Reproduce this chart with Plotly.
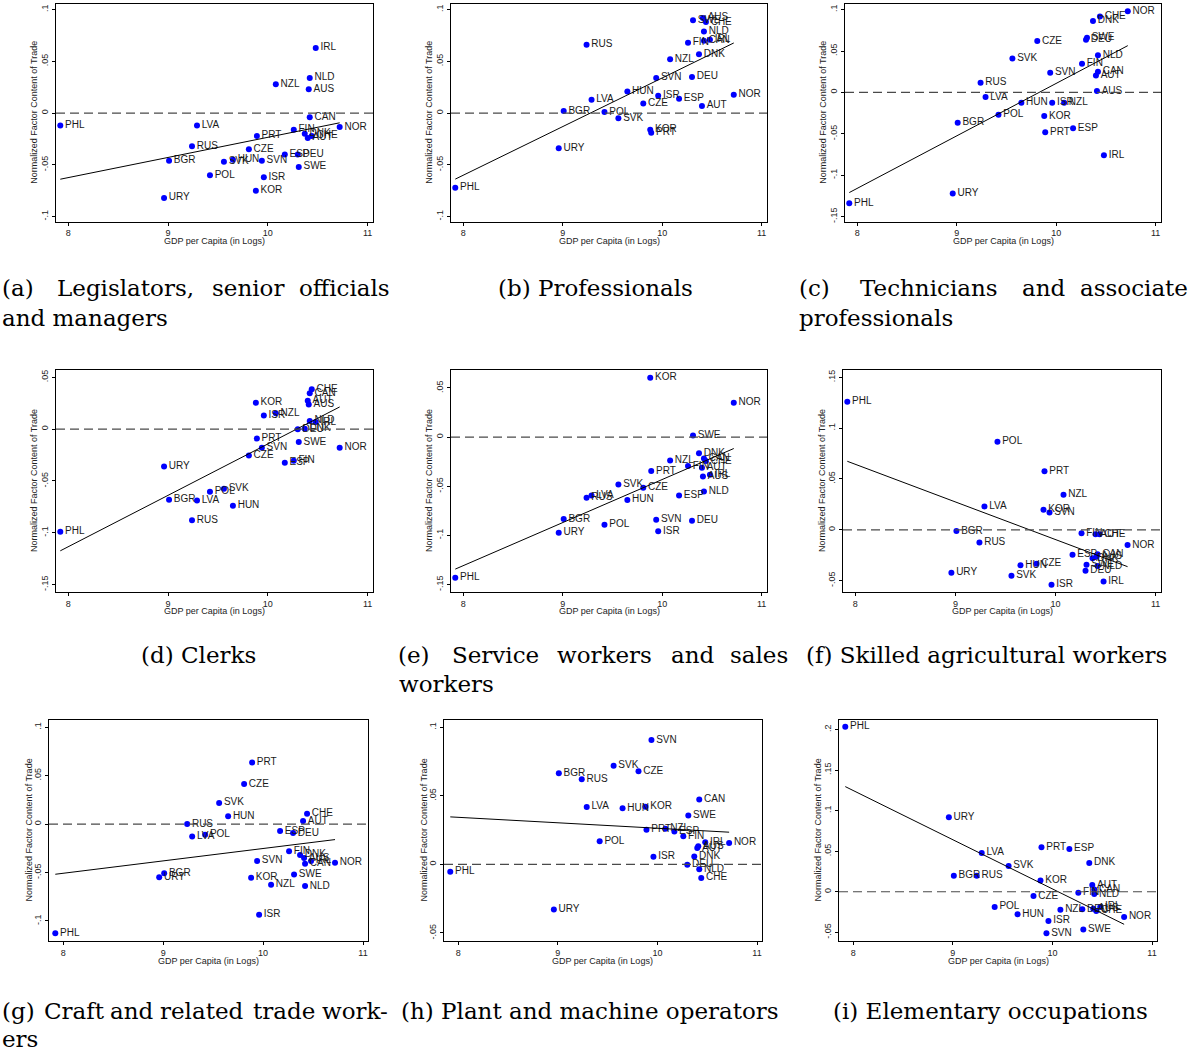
import numpy as np
import plotly.graph_objects as go

# ---------------- data ----------------
countries = ["PHL", "URY", "BGR", "RUS", "LVA", "POL", "SVK", "HUN", "CZE", "KOR",
             "PRT", "SVN", "ISR", "NZL", "ESP", "FIN", "DEU", "SWE", "DNK", "AUS",
             "AUT", "CAN", "NLD", "CHE", "IRL", "NOR"]
gdp = [7.92, 8.96, 9.01, 9.24, 9.29, 9.42, 9.56, 9.65, 9.81, 9.88,
       9.89, 9.94, 9.96, 10.08, 10.17, 10.26, 10.30, 10.31, 10.37, 10.41,
       10.40, 10.42, 10.42, 10.44, 10.48, 10.72]

legislators = [-0.012, -0.082, -0.046, -0.032, -0.012, -0.060, -0.047, -0.045, -0.035, -0.075,
               -0.022, -0.046, -0.062, 0.028, -0.040, -0.016, -0.040, -0.052, -0.020, 0.023,
               -0.024, -0.004, 0.034, -0.022, 0.063, -0.0135]
professionals = [-0.072, -0.034, 0.002, 0.066, 0.013, 0.001, -0.005, 0.021, 0.0093, -0.016,
                 -0.019, 0.034, 0.0167, 0.052, 0.014, 0.068, 0.035, 0.0897, 0.057, 0.092,
                 0.007, 0.070, 0.079, 0.088, 0.071, 0.0177]
technicians = [-0.134, -0.122, -0.0366, 0.0117, -0.0056, -0.027, 0.041, -0.0125, 0.062, -0.0285,
               -0.048, 0.0237, -0.0125, -0.0125, -0.0434, 0.0346, 0.0635, 0.066, 0.0864, 0.0016,
               0.0205, 0.025, 0.045, 0.0916, -0.076, 0.098]
clerks = [-0.099, -0.036, -0.068, -0.088, -0.0688, -0.0605, -0.0576, -0.074, -0.0254, 0.0254,
          -0.009, -0.018, 0.0132, 0.0154, -0.0325, -0.0305, 0.0, -0.0125, 0.0005, 0.0238,
          0.0273, 0.0347, 0.008, 0.0386, 0.0068, -0.018]
service = [-0.143, -0.0973, -0.0834, -0.0617, -0.0593, -0.0892, -0.0481, -0.064, -0.0515, 0.0603,
           -0.0346, -0.0841, -0.0959, -0.0237, -0.0593, -0.0295, -0.0851, 0.0017, -0.0163, -0.040,
           -0.0312, -0.0217, -0.0553, -0.0244, -0.0383, 0.0349]
agricultural = [0.126, -0.0423, -0.0013, -0.0125, 0.023, 0.0866, -0.0452, -0.035, -0.0334, 0.0197,
                0.0577, 0.017, -0.0541, 0.0344, -0.0246, -0.0033, -0.0403, -0.0344, -0.028, -0.0266,
                -0.0043, -0.024, -0.0357, -0.0043, -0.0508, -0.0151]
craft = [-0.1127, -0.0548, -0.0507, 0.0, -0.0127, -0.011, 0.0219, 0.0082, 0.0414, -0.0555,
         0.0637, -0.038, -0.0935, -0.0627, -0.0072, -0.028, -0.0092, -0.052, -0.0318, -0.035,
         0.0031, -0.0408, -0.064, 0.0106, -0.038, -0.040]
plant = [-0.0053, -0.0329, 0.0665, 0.0622, 0.0419, 0.0169, 0.0719, 0.0409, 0.068, 0.0421,
         0.0252, 0.0907, 0.0056, 0.0261, 0.024, 0.0206, -0.0002, 0.0356, 0.0058, 0.0133,
         0.0119, 0.0474, -0.0036, -0.0099, 0.0162, 0.0157]
elementary = [0.2034, 0.092, 0.0196, 0.0196, 0.0479, -0.0188, 0.0319, -0.0278, -0.0053, 0.0139,
              0.0548, -0.0511, -0.036, -0.0221, 0.0528, -0.0012, -0.0217, -0.0466, 0.0356, -0.021,
              0.0082, 0.0029, -0.0029, -0.0237, -0.0188, -0.0311]

x_ticks = [8, 9, 10, 11]
x_title = "GDP per Capita (in Logs)"
y_title = "Normalized Factor Content of Trade"

# ---------------- layout helpers ----------------
W, H = 1193, 1054


def pxx(x):
    return x / W


def pyy(y):
    return 1 - y / H


def fmt(v):
    s = f"{v:g}"
    return s.replace("0.", ".")


# per panel: values, y-range, y-ticks, x-range, x px domain, y px domain, y-title x
panels = [
    dict(v=legislators, yr=[-0.1048, 0.1055], yt=[-0.1, -0.05, 0, 0.05, 0.1],
         xr=[7.877, 11.054], dx=(56, 373), dy=(3, 221), tx=34),
    dict(v=professionals, yr=[-0.1048, 0.1055], yt=[-0.1, -0.05, 0, 0.05, 0.1],
         xr=[7.877, 11.054], dx=(451, 767), dy=(3, 221), tx=429),
    dict(v=technicians, yr=[-0.156, 0.1068], yt=[-0.15, -0.1, -0.05, 0, 0.05, 0.1],
         xr=[7.877, 11.054], dx=(845, 1161), dy=(3, 221), tx=823),
    dict(v=clerks, yr=[-0.157, 0.0568], yt=[-0.15, -0.1, -0.05, 0, 0.05],
         xr=[7.877, 11.054], dx=(56, 373), dy=(370, 592), tx=34),
    dict(v=service, yr=[-0.1575, 0.068], yt=[-0.15, -0.1, -0.05, 0, 0.05],
         xr=[7.877, 11.054], dx=(451, 767), dy=(370, 592), tx=429),
    dict(v=agricultural, yr=[-0.0611, 0.1569], yt=[-0.05, 0, 0.05, 0.1, 0.15],
         xr=[7.877, 11.054], dx=(843, 1161), dy=(370, 592), tx=822),
    dict(v=craft, yr=[-0.1209, 0.1079], yt=[-0.1, -0.05, 0, 0.05, 0.1],
         xr=[7.857, 11.05], dx=(49, 368), dy=(720, 942), tx=29),
    dict(v=plant, yr=[-0.056, 0.1056], yt=[-0.05, 0, 0.05, 0.1],
         xr=[7.857, 11.05], dx=(444, 762), dy=(720, 942), tx=424),
    dict(v=elementary, yr=[-0.061, 0.2123], yt=[-0.05, 0, 0.05, 0.1, 0.15, 0.2],
         xr=[7.857, 11.05], dx=(839, 1157), dy=(720, 942), tx=818),
]

# caption words: (text, x, y, anchor) -- justified lines emulated word by word
captions = [
    ("(a)", 0, 288, "left"), ("Legislators,", 55, 288, "left"), ("senior", 210, 288, "left"),
    ("officials", 392, 288, "right"), ("and managers", 0, 318, "left"),
    ("(b) Professionals", 595, 288, "center"),
    ("(c)", 797, 288, "left"), ("Technicians", 858, 288, "left"), ("and", 1020, 288, "left"),
    ("associate", 1190, 288, "right"), ("professionals", 797, 318, "left"),
    ("(d) Clerks", 198, 655, "center"),
    ("(e)", 396, 655, "left"), ("Service", 450, 655, "left"), ("workers", 555, 655, "left"),
    ("and", 669, 655, "left"), ("sales", 790, 655, "right"), ("workers", 397, 684, "left"),
    ("(f) Skilled agricultural workers", 986, 655, "center"),
    ("(g)", 0, 1012, "left"), ("Craft", 42, 1012, "left"), ("and", 108, 1012, "left"),
    ("related", 158, 1012, "left"), ("trade", 251, 1012, "left"), ("work-", 390, 1012, "right"),
    ("ers", 0, 1040, "left"),
    ("(h) Plant and machine operators", 590, 1012, "center"),
    ("(i) Elementary occupations", 990, 1012, "center"),
]

fig = go.Figure()
layout = dict(width=W, height=H, margin=dict(l=0, r=0, t=0, b=0),
              paper_bgcolor="white", plot_bgcolor="white", showlegend=False)
annotations = []
shapes = []
sans = "Liberation Sans, Arial, sans-serif"
tick_font = dict(family=sans, size=9, color="#222")

gx = np.array(gdp)
for i, p in enumerate(panels):
    n = i + 1
    xa = "x" if n == 1 else f"x{n}"
    ya = "y" if n == 1 else f"y{n}"
    yv = np.array(p["v"])
    fig.add_trace(go.Scatter(
        x=gdp, y=p["v"], text=countries, mode="markers+text",
        textposition="middle right",
        textfont=dict(family=sans, size=10, color="#1a1a1a"),
        marker=dict(color="#0000ff", size=6),
        xaxis=xa, yaxis=ya, cliponaxis=False, hoverinfo="skip"))
    # linear fit
    b, a = np.polyfit(gx, yv, 1)
    xf = [gx.min(), gx.max()]
    fig.add_trace(go.Scatter(
        x=xf, y=[a + b * xf[0], a + b * xf[1]], mode="lines",
        line=dict(color="black", width=1), xaxis=xa, yaxis=ya, hoverinfo="skip"))
    x0, x1 = p["dx"]
    y0, y1 = p["dy"]
    axis_common = dict(showgrid=False, zeroline=False, showline=True, linecolor="black",
                       linewidth=1, mirror=True, ticks="outside", ticklen=3,
                       tickcolor="black", tickfont=tick_font)
    layout["xaxis" if n == 1 else f"xaxis{n}"] = dict(
        axis_common, domain=[pxx(x0), pxx(x1)], range=p["xr"], tickvals=x_ticks,
        ticktext=[str(t) for t in x_ticks], anchor=ya)
    layout["yaxis" if n == 1 else f"yaxis{n}"] = dict(
        axis_common, domain=[pyy(y1), pyy(y0)], range=p["yr"], tickvals=p["yt"],
        ticktext=[fmt(t) for t in p["yt"]], tickangle=-90, anchor=xa)
    shapes.append(dict(type="line", xref=f"{xa} domain", yref=ya, x0=0, x1=1, y0=0, y1=0,
                       line=dict(color="#4a4a4a", width=1.2, dash="9px,5px")))
    annotations.append(dict(text=x_title, xref="paper", yref="paper",
                            x=pxx((x0 + x1) / 2), y=pyy(y1 + 19.5), showarrow=False,
                            xanchor="center", yanchor="middle",
                            font=dict(family=sans, size=9, color="#222")))
    annotations.append(dict(text=y_title, xref="paper", yref="paper",
                            x=pxx(p["tx"]), y=pyy((y0 + y1) / 2), showarrow=False,
                            textangle=-90, xanchor="center", yanchor="middle",
                            font=dict(family=sans, size=9, color="#222")))

for text, x, y, anc in captions:
    annotations.append(dict(text=text, xref="paper", yref="paper", x=pxx(x), y=pyy(y),
                            showarrow=False, xanchor=anc, yanchor="middle",
                            font=dict(family="DejaVu Serif, Liberation Serif, serif",
                                      size=23, color="black")))

layout["annotations"] = annotations
layout["shapes"] = shapes
fig.update_layout(**layout)

fig.write_html("out.html", config={"displayModeBar": False},
               post_script="document.body.style.margin='0';document.body.style.overflow='hidden';")
